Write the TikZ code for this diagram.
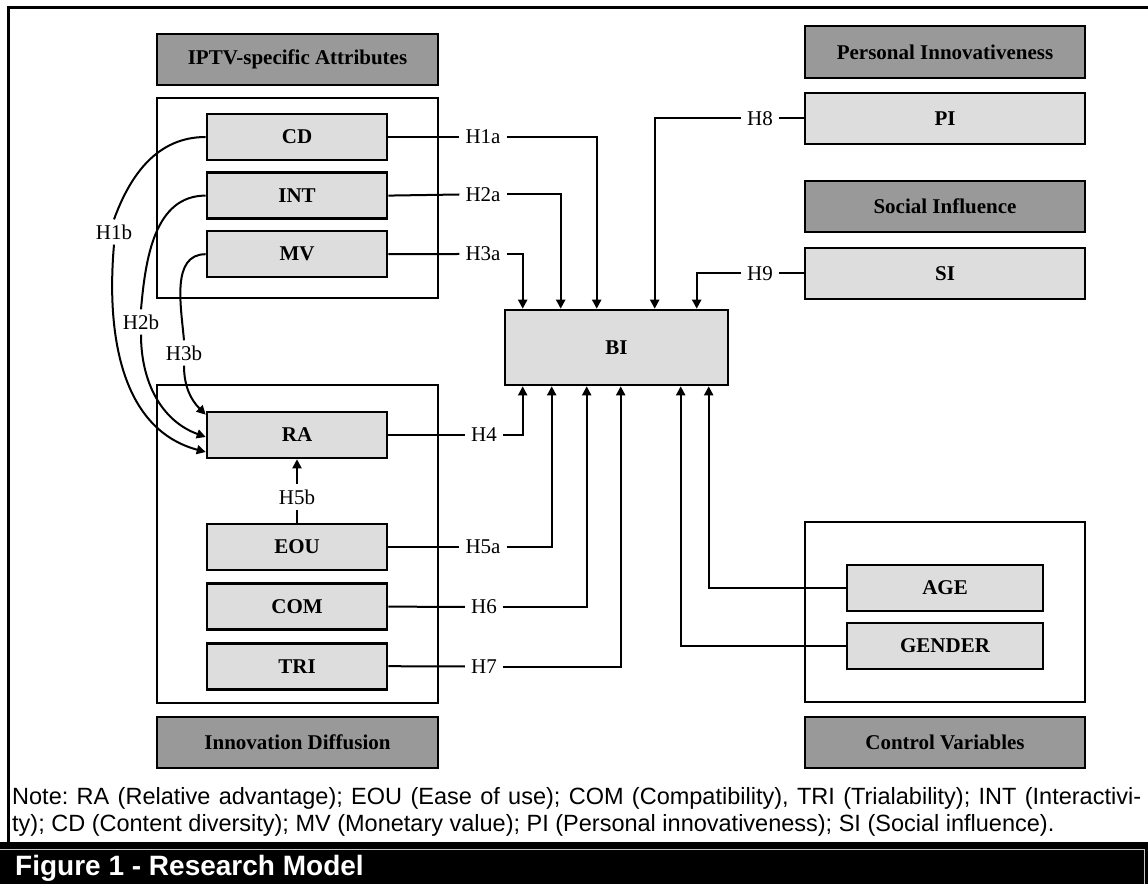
\documentclass[tikz,border=0pt]{standalone}
\usepackage{fontspec}
\setmainfont{Liberation Serif}
\newfontfamily\notefont{Liberation Sans}
\usetikzlibrary{arrows.meta, positioning}
\definecolor{headgray}{RGB}{153,153,153}
\definecolor{boxgray}{RGB}{221,221,221}
\tikzstyle{block} = [draw, rectangle, line width=2.6pt, font=\fontsize{21}{25}\selectfont\bfseries, inner sep=0pt]
\tikzstyle{head} = [block, fill=headgray, minimum width=281pt, minimum height=51pt]
\tikzstyle{item} = [block, fill=boxgray, minimum width=180pt, minimum height=46pt]
\tikzstyle{group} = [draw, rectangle, line width=2.4pt, inner sep=0pt]
\tikzstyle{hyp} = [font=\fontsize{21}{25}\selectfont, inner xsep=6pt, inner ysep=5pt]
\tikzstyle{link} = [line width=2pt]
\tikzstyle{arrow} = [link, -{Triangle[width=9pt, length=9pt]}]

\begin{document}
\begin{tikzpicture}[x=1pt, y=1pt, node distance=10pt]
    \useasboundingbox (0,0) rectangle (1148,884);

    % Frame and caption bar.
    \draw [line width=3pt] (1148,876) -- (8,876) -- (8,42);
    \fill [black] (0,0) rectangle (1148,42);
    \draw [gray!45, line width=0.8pt] (0,35) -- (1144,35) -- (1144,0);
    \node (caption) [anchor=base west, text=white, inner sep=0pt, font=\notefont\bfseries\fontsize{28}{32}\selectfont] at (15,9) {Figure 1 - Research Model};

    % Groups.
    \node (attrs) [group, minimum width=281pt, minimum height=200pt] at (297.5,686) {};
    \node (diffusion) [group, minimum width=281pt, minimum height=318pt] at (297.5,340) {};
    \node (controls) [group, minimum width=280pt, minimum height=180pt] at (945,272) {};

    % Headers.
    \node (iptvhead) [head] at (297.5,824.5) {IPTV-specific Attributes};
    \node (diffhead) [head, below=11.5pt of diffusion] {Innovation Diffusion};
    \node (pihead) [head, minimum width=280pt, minimum height=52pt] at (945,832) {Personal Innovativeness};
    \node (sihead) [head, minimum width=280pt] at (945,677.5) {Social Influence};
    \node (ctrlhead) [head, minimum width=280pt, below=12.5pt of controls] {Control Variables};

    % Variables.
    \node (CD) [item] at (297,747) {CD};
    \node (INT) [item, below=of CD] {INT};
    \node (MV) [item, below=of INT] {MV};
    \node (RA) [item] at (297,449) {RA};
    \node (EOU) [item] at (297,337) {EOU};
    \node (COM) [item, below=11pt of EOU] {COM};
    \node (TRI) [item, below=11pt of COM] {TRI};
    \node (PI) [item, minimum width=280pt, minimum height=51pt, below=12.4pt of pihead] {PI};
    \node (SI) [item, minimum width=280pt, minimum height=51pt, below=13.4pt of sihead] {SI};
    \node (AGE) [item, minimum width=196pt] at (945,296) {AGE};
    \node (GENDER) [item, minimum width=196pt, below=9.4pt of AGE] {GENDER};
    \node (BI) [item, minimum width=223pt, minimum height=75pt] at (616.5,536.5) {BI};

    % Hypothesis labels.
    \node (H1a) [hyp] at (483,747) {H1a};
    \node (H2a) [hyp] at (483,689.5) {H2a};
    \node (H3a) [hyp] at (483,630) {H3a};
    \node (H4) [hyp] at (484,449) {H4};
    \node (H5a) [hyp] at (483,337) {H5a};
    \node (H6) [hyp] at (484,277) {H6};
    \node (H7) [hyp] at (484,217.5) {H7};
    \node (H8) [hyp] at (760,765.5) {H8};
    \node (H9) [hyp] at (760,610.5) {H9};
    \node (H5b) [hyp] at (297,387) {H5b};
    \node (H1b) [hyp] at (114,652) {H1b};
    \node (H2b) [hyp] at (141,562) {H2b};
    \node (H3b) [hyp] at (184,531) {H3b};

    % Entry points on BI.
    \foreach \n/\dx in {t1/19, t2/57, t3/93, t4/151, t5/193}
        \coordinate (\n) at ([xshift=\dx pt]BI.north west);
    \foreach \n/\dx in {b1/19, b2/48, b3/83, b4/117, b5/177, b6/205}
        \coordinate (\n) at ([xshift=\dx pt]BI.south west);

    % Arrows.
    \foreach \src/\lab/\dst in {CD/H1a/t3, INT/H2a/t2, MV/H3a/t1, RA/H4/b1, EOU/H5a/b2, COM/H6/b3, TRI/H7/b4} {
        \draw [link] (\src.east) -- (\lab.west);
        \draw [arrow] (\lab.east) -| (\dst);
    }
    \foreach \src/\lab/\dst in {PI/H8/t4, SI/H9/t5} {
        \draw [link] (\src.west) -- (\lab.east);
        \draw [arrow] (\lab.west) -| (\dst);
    }
    \draw [arrow] (AGE.west) -| (b6);
    \draw [arrow] (GENDER.west) -| (b5);

    \draw [link] (EOU.north) -- (H5b.south);
    \draw [arrow] (H5b.north) -- (RA.south);

    \draw [link] (CD.west) to [out=180, in=70] (H1b.north);
    \draw [arrow] (H1b.south) to [out=-95, in=165] ([yshift=-17pt]RA.west);
    \draw [link] (INT.west) to [out=180, in=85] (H2b.north);
    \draw [arrow] (H2b.south) to [out=-90, in=160] ([yshift=-2pt]RA.west);
    \draw [link] (MV.west) to [out=180, in=95] (H3b.north);
    \draw [arrow] (H3b.south) to [out=-90, in=135] ([yshift=-4pt]RA.north west);

    % Note.
    \node (note) [anchor=north west, inner sep=0pt, text width=1129pt, align=justify, font=\notefont\fontsize{23.5}{27}\selectfont\frenchspacing] at (12,97) {Note: RA (Relative advantage); EOU (Ease of use); COM (Compatibility), TRI (Trialability); INT (Interactivi-\linebreak ty); CD (Content diversity); MV (Monetary value); PI (Personal innovativeness); SI (Social influence).};
\end{tikzpicture}
\end{document}
